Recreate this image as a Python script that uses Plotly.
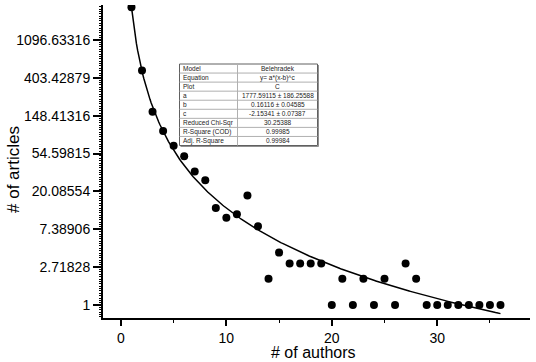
import numpy as np
import plotly.graph_objects as go

# ---- data ----
authors = list(range(1, 37))
articles = [2600, 487, 165, 99, 67, 51, 34, 27, 13, 10, 11, 18, 8, 2, 4, 3, 3, 3, 3,
            1, 2, 1, 2, 1, 2, 1, 3, 2, 1, 1, 1, 1, 1, 1, 1, 1]

# Belehradek fit parameters shown in the chart's table: y = a*(x-b)^c
fit_a = 1777.59115
fit_b = 0.16116
fit_c = -2.15341
fit_x_start = 1
fit_x_end = 36

ytick_vals = [1, 2.71828, 7.38906, 20.08554, 54.59815, 148.41316, 403.42879, 1096.63316]
ytick_text = ["1", "2.71828", "7.38906", "20.08554", "54.59815", "148.41316",
              "403.42879", "1096.63316"]
xtick_vals = [0, 10, 20, 30]
x_title = "# of authors"
y_title = "# of articles"

table_labels = ["Model", "Equation", "Plot", "a", "b", "c", "Reduced Chi-Sqr",
                "R-Square (COD)", "Adj. R-Square"]
table_values = ["Belehradek", "y= a*(x-b)^c", "C", "1777.59115 ± 186.25588",
                "0.16116 ± 0.04585", "-2.15341 ± 0.07387", "30.25388",
                "0.99985", "0.99984"]

fit_x = np.linspace(fit_x_start, fit_x_end, 300)
fit_y = fit_a * (fit_x - fit_b) ** fit_c

FONT = "Liberation Sans, Arial, sans-serif"
W, H = 536, 362
ML, MR, MT, MB = 103, 6, 5, 44
PW, PH = W - ML - MR, H - MT - MB


def px(xp):
    return (xp - ML) / PW


def py(yp):
    return (H - MB - yp) / PH


fig = go.Figure()
fig.add_trace(go.Scatter(x=authors, y=articles, mode="markers",
                         marker=dict(color="black", size=8), showlegend=False))
fig.add_trace(go.Scatter(x=fit_x, y=fit_y, mode="lines",
                         line=dict(color="black", width=1.5), showlegend=False))
# invisible trace to carry the minor-tick axis
fig.add_trace(go.Scatter(x=[authors[0]], y=[articles[0]], yaxis="y2", mode="markers",
                         marker=dict(opacity=0), showlegend=False, hoverinfo="skip"))

# ---- fit-result table drawn with shapes + annotations ----
t_left, t_right, t_top, t_bot, t_div = 179.5, 317.5, 64.0, 145.5, 237.5
n_rows = len(table_labels)
rh = (t_bot - t_top) / n_rows
shapes = []
shapes.append(dict(type="rect", xref="paper", yref="paper",
                   x0=px(t_left), x1=px(t_right), y0=py(t_bot), y1=py(t_top),
                   fillcolor="white", line=dict(color="#606060", width=1), layer="above"))
for i in range(1, n_rows):
    yy = t_top + i * rh
    shapes.append(dict(type="line", xref="paper", yref="paper",
                       x0=px(t_left), x1=px(t_right), y0=py(yy), y1=py(yy),
                       line=dict(color="#b0b0b0", width=1), layer="above"))
shapes.append(dict(type="line", xref="paper", yref="paper",
                   x0=px(t_div), x1=px(t_div), y0=py(t_bot), y1=py(t_top),
                   line=dict(color="#b0b0b0", width=1), layer="above"))
shapes.append(dict(type="line", xref="paper", yref="paper",
                   x0=px(t_right + 1), x1=px(t_right + 1), y0=py(t_bot + 1), y1=py(t_top + 1),
                   line=dict(color="#909090", width=1), layer="above"))
shapes.append(dict(type="line", xref="paper", yref="paper",
                   x0=px(t_left + 1), x1=px(t_right + 1), y0=py(t_bot + 1), y1=py(t_bot + 1),
                   line=dict(color="#909090", width=1), layer="above"))

annotations = []
for i, (lab, val) in enumerate(zip(table_labels, table_values)):
    yc = t_top + (i + 0.5) * rh
    annotations.append(dict(xref="paper", yref="paper", x=px(t_left + 2), y=py(yc),
                            text=lab, showarrow=False, xanchor="left", yanchor="middle",
                            font=dict(family=FONT, size=6.5, color="#222"),
                            borderpad=0))
    annotations.append(dict(xref="paper", yref="paper", x=px((t_div + t_right) / 2), y=py(yc),
                            text=val, showarrow=False, xanchor="center", yanchor="middle",
                            font=dict(family=FONT, size=6.5, color="#222"),
                            borderpad=0))

# axis titles as annotations for exact placement
annotations.append(dict(xref="paper", yref="paper", x=px(313), y=py(352.5),
                        text=x_title, showarrow=False, xanchor="center", yanchor="middle",
                        font=dict(family=FONT, size=16, color="black"), borderpad=0))
annotations.append(dict(xref="paper", yref="paper", x=px(13), y=py(170),
                        text=y_title, showarrow=False, xanchor="center", yanchor="middle",
                        textangle=-90,
                        font=dict(family=FONT, size=17, color="black"), borderpad=0))

minor_y = [float(np.exp(k / 16.0)) for k in range(-6, 128)]
y_range = [float(np.log10(np.exp(-0.34))), float(np.log10(np.exp(7.92)))]

fig.update_layout(
    width=W, height=H,
    margin=dict(l=ML, r=MR, t=MT, b=MB),
    paper_bgcolor="white", plot_bgcolor="white",
    font=dict(family=FONT, color="black"),
    shapes=shapes, annotations=annotations,
    xaxis=dict(range=[-1.7, 38.8], tickvals=xtick_vals, automargin=False,
               showgrid=False, zeroline=False,
               showline=True, linecolor="black", linewidth=2,
               ticks="outside", ticklen=6, tickwidth=1.5, tickcolor="black",
               tickfont=dict(size=14),
               minor=dict(dtick=5, tick0=0, ticks="outside", ticklen=3,
                          tickcolor="black", tickwidth=1.2)),
    yaxis=dict(type="log", range=y_range, automargin=False,
               tickmode="array", tickvals=ytick_vals, ticktext=ytick_text,
               showgrid=False, zeroline=False,
               showline=True, linecolor="black", linewidth=2,
               ticks="outside", ticklen=8, tickwidth=1.5, tickcolor="black",
               tickfont=dict(size=14)),
    yaxis2=dict(type="log", range=y_range, overlaying="y", side="left", anchor="x",
                automargin=False,
                tickmode="array", tickvals=minor_y, showticklabels=False,
                showgrid=False, zeroline=False, showline=False,
                ticks="outside", ticklen=3, tickwidth=1, tickcolor="black"),
)

fig.write_html("out.html", config={"displayModeBar": False},
               post_script="document.body.style.margin='0';")
